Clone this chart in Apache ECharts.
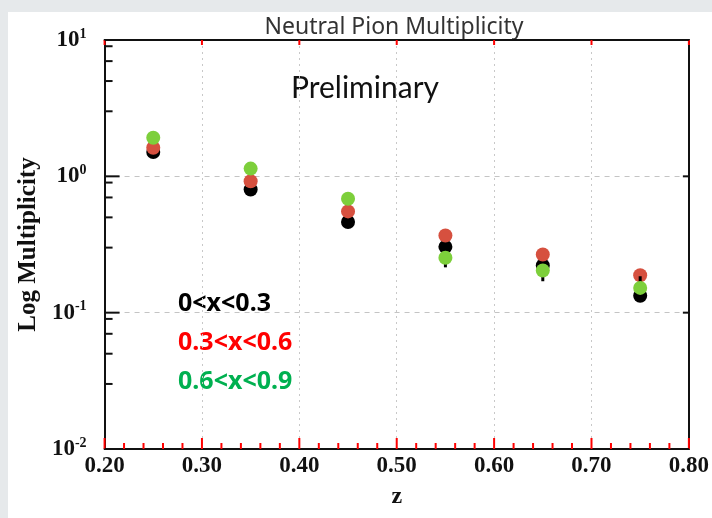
<!DOCTYPE html>
<html>
<head>
<meta charset="utf-8">
<script src="https://cdn.jsdelivr.net/npm/echarts@6/dist/echarts.min.js"></script>
<style>
  html, body { margin: 0; padding: 0; background: #e6e9eb; }
  #frame { position: relative; width: 712px; height: 518px; background: #e6e9eb; overflow: hidden; }
  #chart { position: absolute; left: 8px; top: 12px; width: 704px; height: 506px; background: #ffffff; }
</style>
</head>
<body>
<div id="frame"><div id="chart"></div></div>
<script>
// z bins (x positions of the points)
const zValues = [0.25, 0.35, 0.45, 0.55, 0.65, 0.75];

// multiplicity per x-range bin
const mult_x0_03 = [1.51, 0.80, 0.463, 0.304, 0.222, 0.133];
const mult_x03_06 = [1.62, 0.92, 0.553, 0.368, 0.267, 0.188];
const mult_x06_09 = [1.92, 1.14, 0.685, 0.253, 0.204, 0.152];

// error bars attached to the 0<x<0.3 points
const errZ = [0.55, 0.65, 0.75];
const errLow = [0.215, 0.170, 0.133];
const errHigh = [0.304, 0.222, 0.185];

// tick positions
const xMajorTicks = [0.2, 0.3, 0.4, 0.5, 0.6, 0.7, 0.8];
const xMinorTicks = [0.22, 0.24, 0.26, 0.28, 0.32, 0.34, 0.36, 0.38, 0.42, 0.44, 0.46, 0.48,
                     0.52, 0.54, 0.56, 0.58, 0.62, 0.64, 0.66, 0.68, 0.72, 0.74, 0.76, 0.78];
const yMajorTicks = [0.01, 0.1, 1, 10];
const yMinorTicks = [0.03, 0.05, 0.07, 0.09, 0.3, 0.5, 0.7, 0.9, 3, 5, 7, 9];

// x tick labels
const xTickLabels = ['0.20', '0.30', '0.40', '0.50', '0.60', '0.70', '0.80'];

const legendLabels = ['0<x<0.3', '0.3<x<0.6', '0.6<x<0.9'];
const legendColors = ['#000000', '#ff0000', '#00b050'];
const markerColors = ['#000000', '#d6503f', '#7dcf3b'];

const pairs = (ys) => zValues.map((z, i) => [z, ys[i]]);

const serifBold = { fontFamily: 'Liberation Serif', fontWeight: 'bold', color: '#111' };

// x ticks: [z, length]; both ends are taken from the axes
const bottomTickRows = xMajorTicks.map((v) => [v, 11]).concat(xMinorTicks.map((v) => [v, 6]));
const topTickRows = xMajorTicks.map((v) => [v, 5]);
// y ticks: [value, length]
const leftTickRows = yMajorTicks.map((v) => [v, 15]).concat(yMinorTicks.map((v) => [v, 8]));
const rightTickRows = yMajorTicks.map((v) => [v, 6]);

function xTickSeries(rows, atTop) {
  return {
    type: 'custom', z: 6, silent: true,
    encode: { x: 0 },
    data: rows,
    renderItem: (params, api) => {
      const v = api.value(0);
      const len = api.value(1);
      const lo = api.coord([v, 0.01]);
      const hi = api.coord([v, 10]);
      const y0 = atTop ? hi[1] : lo[1];
      const y1 = atTop ? hi[1] + len : lo[1] - len;
      return {
        type: 'line',
        shape: { x1: lo[0], y1: y0, x2: hi[0], y2: y1 },
        style: { stroke: 'red', lineWidth: 2 }
      };
    }
  };
}

function yTickSeries(rows, atRight) {
  return {
    type: 'custom', z: 6, silent: true,
    encode: { y: 0 },
    data: rows,
    renderItem: (params, api) => {
      const v = api.value(0);
      const len = api.value(1);
      const l = api.coord([0.2, v]);
      const r = api.coord([0.8, v]);
      const x0 = atRight ? r[0] : l[0];
      const x1 = atRight ? r[0] - len : l[0] + len;
      return {
        type: 'line',
        shape: { x1: x0, y1: l[1], x2: x1, y2: r[1] },
        style: { stroke: '#111', lineWidth: 2 }
      };
    }
  };
}

const chart = echarts.init(document.getElementById('chart'), null, { renderer: 'canvas' });

const option = {
  animation: false,
  grid: { left: 96, right: 22, top: 28, bottom: 69 },
  xAxis: [
    {
      type: 'value', min: 0.2, max: 0.8, interval: 0.1, position: 'bottom',
      name: 'z', nameLocation: 'middle', nameGap: 36,
      nameTextStyle: Object.assign({ fontSize: 24 }, serifBold),
      axisLine: { show: true, onZero: false, lineStyle: { color: '#111', width: 2 } },
      axisTick: { show: false },
      axisLabel: Object.assign({
        fontSize: 23, margin: 6,
        formatter: (v) => xTickLabels[Math.round((v - 0.2) * 10)]
      }, serifBold),
      splitLine: { show: true, lineStyle: { color: '#c8c8c8', type: [2, 4], width: 1 } }
    },
    {
      type: 'value', min: 0.2, max: 0.8, interval: 0.1, position: 'top',
      axisLine: { show: true, onZero: false, lineStyle: { color: '#111', width: 2 } },
      axisTick: { show: false },
      axisLabel: { show: false },
      splitLine: { show: false }
    }
  ],
  yAxis: [
    {
      type: 'log', logBase: 10, min: 0.01, max: 10, position: 'left',
      name: 'Log Multiplicity', nameLocation: 'middle', nameGap: 62,
      nameTextStyle: Object.assign({ fontSize: 25 }, serifBold),
      axisLine: { show: true, onZero: false, lineStyle: { color: '#111', width: 2 } },
      axisTick: { show: false },
      axisLabel: {
        margin: 18,
        formatter: (v) => '{b|10}{s|' + Math.round(Math.log10(v)) + '}',
        rich: {
          b: { fontFamily: 'Liberation Serif', fontWeight: 'bold', fontSize: 23, color: '#111' },
          s: { fontFamily: 'Liberation Serif', fontWeight: 'bold', fontSize: 14, color: '#111', padding: [0, 0, 12, 0] }
        }
      },
      splitLine: { show: true, lineStyle: { color: '#c4c4c4', type: [5, 5], width: 1 } }
    },
    {
      type: 'log', logBase: 10, min: 0.01, max: 10, position: 'right',
      axisLine: { show: true, onZero: false, lineStyle: { color: '#111', width: 2 } },
      axisTick: { show: false },
      axisLabel: { show: false },
      splitLine: { show: false }
    }
  ],
  graphic: [
    {
      type: 'text', x: 386, y: 15,
      style: { text: 'Neutral Pion Multiplicity', fontFamily: 'Noto Sans', fontSize: 23, fill: '#333', textAlign: 'center', textVerticalAlign: 'middle' }
    },
    {
      type: 'text', x: 357, y: 76,
      style: { text: 'Preliminary', fontFamily: 'Lato', fontSize: 30, fill: '#111', textAlign: 'center', textVerticalAlign: 'middle' }
    }
  ].concat(legendLabels.map((t, i) => ({
    type: 'text', x: 170, y: 292 + i * 39,
    style: { text: t, fontFamily: 'Noto Sans', fontWeight: 'bold', fontSize: 25, fill: legendColors[i], textAlign: 'left', textVerticalAlign: 'middle' }
  }))),
  series: [
    xTickSeries(bottomTickRows, false),
    xTickSeries(topTickRows, true),
    yTickSeries(leftTickRows, false),
    yTickSeries(rightTickRows, true),
    {
      type: 'scatter', name: legendLabels[0], data: pairs(mult_x0_03),
      symbol: 'circle', symbolSize: 14, itemStyle: { color: markerColors[0], opacity: 1 }, z: 2
    },
    {
      type: 'scatter', name: legendLabels[1], data: pairs(mult_x03_06),
      symbol: 'circle', symbolSize: 14, itemStyle: { color: markerColors[1], opacity: 1 }, z: 3
    },
    {
      type: 'custom', name: 'errors', silent: true, z: 4,
      data: errZ.map((z, i) => [z, errLow[i], errHigh[i]]),
      renderItem: (params, api) => {
        const lo = api.coord([api.value(0), api.value(1)]);
        const hi = api.coord([api.value(0), api.value(2)]);
        return {
          type: 'line',
          shape: { x1: lo[0], y1: lo[1], x2: hi[0], y2: hi[1] },
          style: { stroke: '#000', lineWidth: 3 }
        };
      }
    },
    {
      type: 'scatter', name: legendLabels[2], data: pairs(mult_x06_09),
      symbol: 'circle', symbolSize: 14, itemStyle: { color: markerColors[2], opacity: 1 }, z: 5
    }
  ]
};

chart.setOption(option);
</script>
</body>
</html>
